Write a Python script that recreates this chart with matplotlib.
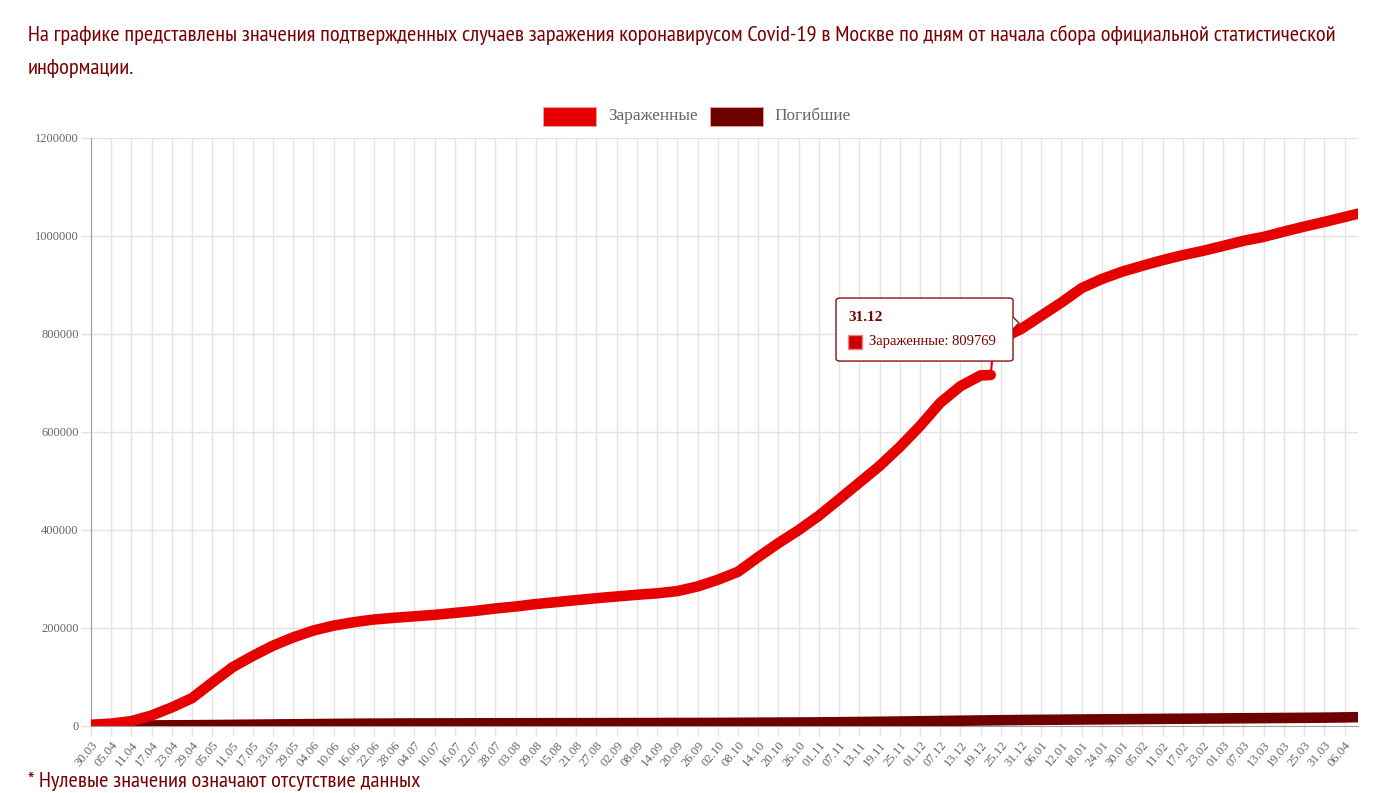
import matplotlib
matplotlib.use("Agg")
import matplotlib.pyplot as plt
from matplotlib import font_manager
import pandas as pd
import numpy as np
from matplotlib.patches import FancyBboxPatch, Polygon, Rectangle

# ---------------- data ----------------
start_date = "30.03.2020"
end_date = "10.04.2021"

inf_dates = ["30.03.2020", "05.04.2020", "11.04.2020", "17.04.2020", "23.04.2020", "29.04.2020",
             "05.05.2020", "11.05.2020", "17.05.2020", "23.05.2020", "29.05.2020", "04.06.2020",
             "10.06.2020", "16.06.2020", "22.06.2020", "28.06.2020", "04.07.2020", "10.07.2020",
             "16.07.2020", "22.07.2020", "28.07.2020", "03.08.2020", "09.08.2020", "15.08.2020",
             "21.08.2020", "27.08.2020", "02.09.2020", "08.09.2020", "14.09.2020", "20.09.2020",
             "26.09.2020", "02.10.2020", "08.10.2020", "14.10.2020", "20.10.2020", "26.10.2020",
             "01.11.2020", "07.11.2020", "13.11.2020", "19.11.2020", "25.11.2020", "01.12.2020",
             "07.12.2020", "13.12.2020", "19.12.2020", "22.12.2020",
             "23.12.2020", "28.12.2020", "31.12.2020", "06.01.2021", "12.01.2021", "18.01.2021",
             "24.01.2021", "30.01.2021", "05.02.2021", "11.02.2021", "17.02.2021", "23.02.2021",
             "01.03.2021", "07.03.2021", "13.03.2021", "19.03.2021", "25.03.2021", "31.03.2021",
             "06.04.2021", "10.04.2021"]
inf_values = [1500, 3900, 9000, 20500, 37000, 56000,
              88000, 119000, 142000, 163000, 180000, 194000,
              204000, 211000, 216500, 220000, 223000, 226000,
              230000, 234000, 239000, 243000, 248000, 252000,
              256000, 260000, 263500, 267000, 270000, 274500,
              284000, 297600, 314000, 344000, 372500, 399000,
              428500, 462000, 496000, 530000, 568800, 611500,
              659000, 693000, 715000, 716000,
              790000, 800000, 809769, 837000, 864000, 893500,
              912000, 927000, 939000, 950500, 960700, 969500,
              979600, 990000, 998000, 1008800, 1019000, 1028500,
              1038600, 1045400]
jump_after = "22.12.2020"   # data gap: value jumps on the next reported day

death_dates = ["30.03.2020", "17.04.2020", "29.04.2020", "11.05.2020", "29.05.2020", "16.06.2020",
               "04.07.2020", "03.08.2020", "02.09.2020", "02.10.2020", "01.11.2020", "19.11.2020",
               "01.12.2020", "25.12.2020", "31.12.2020", "30.01.2021", "01.03.2021", "31.03.2021",
               "10.04.2021"]
death_values = [10, 200, 600, 1300, 2500, 3600,
                4200, 4600, 4900, 5300, 6400, 7600,
                8700, 10800, 11300, 12900, 14500, 16000,
                17000]

series_names = ["Зараженные", "Погибшие"]
tooltip_date = "31.12.2020"
tooltip_title = "31.12"
tooltip_value = 809769

y_ticks = [0, 200000, 400000, 600000, 800000, 1000000, 1200000]
tick_step_days = 6

title_line1 = ("На графике представлены значения подтвержденных случаев заражения коронавирусом Covid-19 "
               "в Москве по дням от начала сбора официальной статистической")
title_line2 = "информации."
footer_text = "* Нулевые значения означают отсутствие данных"

# ---------------- helpers ----------------
t0 = pd.to_datetime(start_date, format="%d.%m.%Y")
def day_index(lst):
    return np.array([(pd.to_datetime(d, format="%d.%m.%Y") - t0).days for d in lst])

inf_x = day_index(inf_dates)
death_x = day_index(death_dates)
n_days = (pd.to_datetime(end_date, format="%d.%m.%Y") - t0).days

# choose a narrow sans font if one is installed
narrow = "Liberation Sans"
for cand in ["PT Sans Narrow", "Liberation Sans Narrow", "Arial Narrow", "Roboto Condensed",
             "Open Sans Condensed", "Noto Sans Condensed", "DejaVu Sans Condensed"]:
    try:
        font_manager.findfont(font_manager.FontProperties(family=cand), fallback_to_default=False)
        narrow = cand
        break
    except Exception:
        pass

RED = "#e60000"
DARK = "#6e0000"
TXT = "#7a0000"
GRID = "#e3e3e3"
LBL = "#666666"

W, H = 1385, 793
fig = plt.figure(figsize=(W / 100, H / 100), dpi=100)
ax = fig.add_axes([91 / W, 1 - 725.5 / H, (1358 - 91) / W, (725.5 - 138) / H])

# infected line (split at the data jump)
j = inf_dates.index(jump_after)
kw = dict(solid_capstyle="round", solid_joinstyle="round")
ax.plot(inf_x[:j + 1], inf_values[:j + 1], color=RED, lw=7.6, zorder=5, **kw)
ax.plot(inf_x[j:j + 2], inf_values[j:j + 2], color=RED, lw=1.5, zorder=4)
ax.plot(inf_x[j + 1:], inf_values[j + 1:], color=RED, lw=7.6, zorder=5, **kw)
# deaths line
ax.plot(death_x, death_values, color=DARK, lw=7.6, zorder=3, **kw)

ax.set_xlim(0, n_days)
ax.set_ylim(0, 1200000)

xt = np.arange(0, n_days + 1, tick_step_days)
xl = [(t0 + pd.Timedelta(days=int(d))).strftime("%d.%m") for d in xt]
ax.set_xticks(xt)
ax.set_xticklabels(xl, rotation=50, ha="right", va="top", rotation_mode="anchor",
                   family="Liberation Serif", fontsize=9.2, color=LBL)
ax.set_yticks(y_ticks)
ax.set_yticklabels([str(v) for v in y_ticks], family="Liberation Serif", fontsize=9.0, color=LBL)
ax.tick_params(axis="both", length=7, color=GRID, width=1)
ax.tick_params(axis="x", pad=3)
ax.tick_params(axis="y", pad=2)
ax.grid(True, color=GRID, lw=1)
ax.set_axisbelow(True)
for s in ["top", "right"]:
    ax.spines[s].set_visible(False)
ax.spines["left"].set_color("#a0a0a0")
ax.spines["bottom"].set_color("#a0a0a0")

# title and footer: fit first line to the reference width
renderer = fig.canvas.get_renderer()
fam = [narrow, "DejaVu Sans"]
t1 = fig.text(28 / W, 1 - 35 / H, title_line1, ha="left", va="center", color=TXT, family=fam, fontsize=15)
w1 = t1.get_window_extent(renderer).width
fs = 15 * 1302.0 / w1
t1.set_fontsize(fs)
fig.text(28 / W, 1 - 68 / H, title_line2, ha="left", va="center", color=TXT, family=fam, fontsize=fs)
fig.text(28 / W, 1 - 781 / H, footer_text, ha="left", va="center", color=TXT, family=fam, fontsize=fs)

# legend
leg_y = 116
boxes = [(543, RED, 608), (710, DARK, 774)]
for (bx, col, tx), name in zip(boxes, series_names):
    fig.patches.append(Rectangle((bx / W, 1 - 126 / H), 53 / W, 19 / H, transform=fig.transFigure,
                                 facecolor=col, edgecolor="#f0a0a0", lw=0.6))
    fig.text(tx / W, 1 - leg_y / H, name, ha="left", va="center", color=LBL,
             family="Liberation Serif", fontsize=12.4)

# tooltip anchored to the data point
fig.canvas.draw()
tx_i = day_index([tooltip_date])[0]
px, py = ax.transData.transform((tx_i, tooltip_value))
def ff(x, y):
    return x / W, y / H
bw, bh = 177, 63
bx1 = px - 8 - bw
by_top = py + 31
box = FancyBboxPatch(ff(bx1, by_top - bh), bw / W, bh / H, boxstyle="round,pad=0,rounding_size=0.003",
                     transform=fig.transFigure, facecolor="white", edgecolor="#8b1010", lw=1.0, zorder=20)
fig.patches.append(box)
caret = Polygon([ff(px - 8, py + 12), ff(px - 2, py + 6), ff(px - 8, py)], closed=False,
                transform=fig.transFigure, facecolor="white", edgecolor="#8b1010", lw=1.0, zorder=21)
fig.patches.append(caret)
fig.text((bx1 + 12) / W, (by_top - 19) / H, tooltip_title, ha="left", va="center", color=TXT,
         family="Liberation Serif", fontsize=11, weight="bold", zorder=23)
fig.patches.append(Rectangle(ff(bx1 + 12, by_top - 51), 14 / W, 14 / H, transform=fig.transFigure,
                             facecolor="#cc0000", edgecolor="#f08080", lw=1.0, zorder=23))
fig.text((bx1 + 33) / W, (by_top - 43.5) / H, f"{series_names[0]}: {tooltip_value}", ha="left",
         va="center", color=TXT, family="Liberation Serif", fontsize=10.5, zorder=23)

fig.savefig("out.png", dpi=100)
